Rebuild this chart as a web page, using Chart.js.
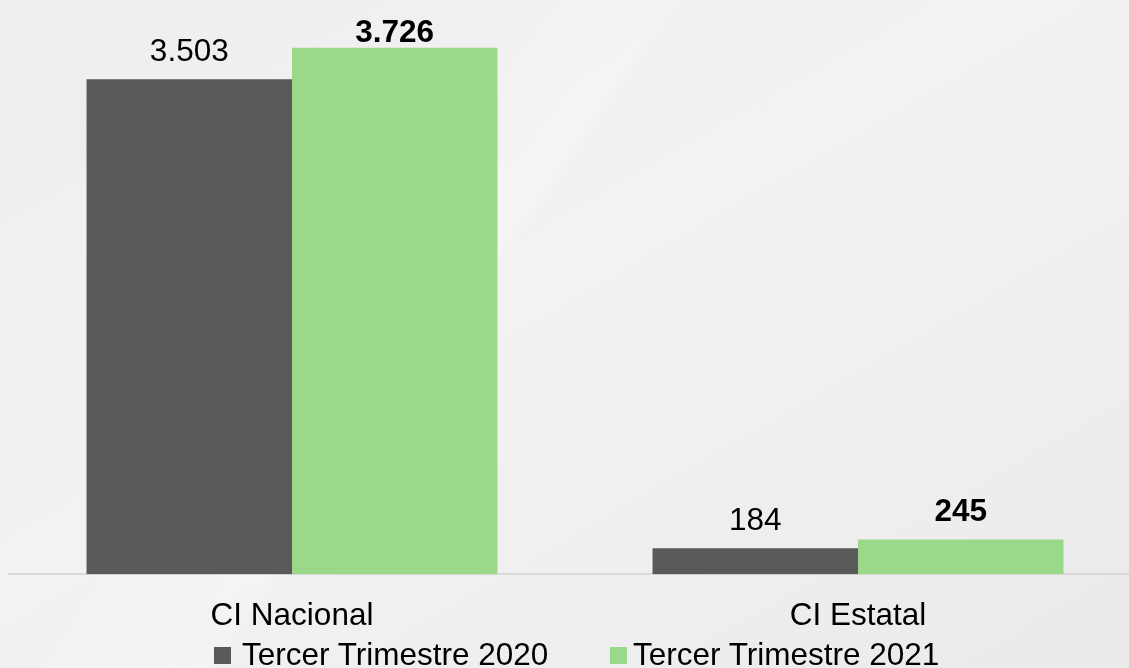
<!DOCTYPE html>
<html>
<head>
<meta charset="utf-8">
<script src="https://cdn.jsdelivr.net/npm/chart.js@4.4.1/dist/chart.umd.min.js"></script>
<style>
  html, body { margin: 0; padding: 0; overflow: hidden; }
  body {
    width: 1129px; height: 668px; position: relative;
    background:
      linear-gradient(125deg, rgba(255,255,255,0) 30%, rgba(255,255,255,.25) 42%, rgba(255,255,255,0) 43%),
      linear-gradient(150deg, #eeeeee 0%, #f2f2f2 45%, #efefef 70%, #eaeaea 100%);
    font-family: "Liberation Sans", Arial, sans-serif;
  }
  #wrap { position: absolute; left: 0; top: 0; width: 1141px; height: 668px; }
  .leyenda { position: absolute; top: 639px; font-size: 31.5px; line-height: 30px; color: #000; white-space: nowrap; }
  .leyenda i { position: absolute; left: 0; top: 8px; width: 17px; height: 17px; }
</style>
</head>
<body>
<div id="wrap"><canvas id="c"></canvas></div>
<div id="leyenda"></div>
<script>
// ============ DATOS ============
const categorias = ['CI Nacional', 'CI Estatal'];
const serie2020 = [3503, 184];
const serie2021 = [3726, 245];
const etiquetasSeries = ['Tercer Trimestre 2020', 'Tercer Trimestre 2021'];
const colores = ['#595959', '#9ad88a'];

const FONT = '"Liberation Sans", Arial, sans-serif';

// miles con punto (3.503)
const fmt = n => String(n).replace(/\B(?=(\d{3})+(?!\d))/g, '.');

// etiquetas de valor arriba de cada barra (se recortan al borde superior como en Excel)
const valorArriba = {
  id: 'valorArriba',
  afterDatasetsDraw(chart) {
    const { ctx, chartArea } = chart;
    chart.data.datasets.forEach((ds, i) => {
      const meta = chart.getDatasetMeta(i);
      ctx.save();
      ctx.font = (i === 1 ? 'bold ' : '') + '31.5px ' + FONT;
      ctx.fillStyle = '#000';
      ctx.textAlign = 'center';
      ctx.textBaseline = 'alphabetic';
      meta.data.forEach((bar, j) => {
        const y = Math.max(bar.y - (i === 1 ? 19 : 18), chartArea.top + 33);
        ctx.fillText(fmt(ds.data[j]), bar.x, y);
      });
      ctx.restore();
    });
  }
};

new Chart(document.getElementById('c'), {
  type: 'bar',
  data: {
    labels: categorias,
    datasets: [
      { label: etiquetasSeries[0], data: serie2020, backgroundColor: colores[0], categoryPercentage: 0.726, barPercentage: 1 },
      { label: etiquetasSeries[1], data: serie2021, backgroundColor: colores[1], categoryPercentage: 0.726, barPercentage: 1 },
    ]
  },
  options: {
    responsive: true, maintainAspectRatio: false, animation: false,
    layout: { padding: { top: 9, left: 9, right: 0, bottom: 10 } },
    plugins: { legend: { display: false }, tooltip: { enabled: false } },
    scales: {
      x: {
        grid: { display: false, drawTicks: false },
        border: { color: '#d9d9d9', width: 2 },
        ticks: { color: '#000', font: { family: FONT, size: 31.5 }, padding: 23 }
      },
      y: { display: false, min: 0, max: 4000 }
    }
  },
  plugins: [valorArriba]
});

// leyenda abajo
const posLeyenda = [214, 610];
const sepTexto = [28, 23];
document.getElementById('leyenda').innerHTML = etiquetasSeries.map((t, i) =>
  `<div class="leyenda" style="left:${posLeyenda[i]}px"><i style="background:${colores[i]}"></i><span style="margin-left:${sepTexto[i]}px">${t}</span></div>`
).join('');
</script>
</body>
</html>
